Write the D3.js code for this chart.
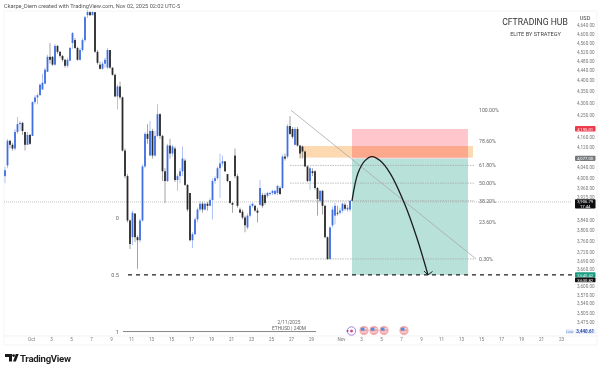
<!DOCTYPE html>
<html><head><meta charset="utf-8">
<script src="https://cdn.jsdelivr.net/npm/d3@7"></script>
<style>html,body{margin:0;padding:0;background:#fff}svg{display:block;filter:blur(.3px)}text{font-family:Roboto,"Liberation Sans",sans-serif}</style>
</head><body><div id="c"></div>
<script>
const opens=[4006,4048,4146,4130,4115,4182,4214,4219,4182,4130,4170,4166,4305,4325,4334,4358,4383,4434,4499,4499,4465,4547,4521,4503,4486,4460,4482,4560,4573,4538,4486,4529,4573,4685,4699,4685,4699,4521,4465,4447,4469,4452,4529,4452,4421,4329,4371,4325,4107,4006,3837,3775,3863,3775,3764,3837,4044,4174,4087,4186,4087,4166,4255,4166,4025,3987,4127,4095,4115,3991,4006,4025,4067,3972,3941,3764,3786,3841,3878,3900,3878,3900,3892,3914,3987,3998,4037,4056,4064,4014,3987,3903,4087,4006,3878,3870,3848,3811,3855,3892,3892,3874,3896,3933,3933,3930,3937,3941,3937,3941,3960,3960,4083,4083,4206,4194,4130,4194,4127,4123,4103,4044,3987,4025,4025,3960,3911,3949,3892,3775,3696,3819,3855,3866,3866,3874,3896,3878,3878];
const closes=[4029,4146,4130,4115,4182,4214,4219,4186,4130,4170,4134,4305,4325,4334,4379,4387,4443,4499,4486,4465,4547,4521,4503,4486,4460,4486,4538,4604,4538,4486,4529,4573,4676,4699,4685,4699,4521,4473,4447,4469,4486,4529,4452,4421,4329,4371,4325,4107,4006,3837,3750,3866,3775,3764,3837,4044,4174,4154,4186,4087,4166,4255,4166,4025,3987,4127,4095,4123,3991,4006,4025,4075,3972,3878,3764,3786,3841,3878,3900,3878,3900,3892,3914,3987,3998,4037,4056,4064,4025,3987,3903,3896,4006,3892,3866,3848,3819,3855,3892,3900,3874,3866,3960,3892,3903,3941,3941,3949,3949,3968,3937,4083,4075,4206,4174,4162,4194,4127,4095,4103,4044,3987,4037,4018,3960,3918,3949,3892,3775,3696,3811,3878,3892,3863,3874,3900,3881,3885,3911];
const highs=[4044,4154,4150,4138,4194,4243,4227,4223,4182,4182,4174,4309,4334,4342,4383,4426,4452,4508,4560,4503,4556,4551,4525,4508,4490,4495,4543,4609,4582,4543,4538,4582,4681,4708,4703,4703,4699,4529,4478,4478,4495,4538,4529,4452,4426,4379,4392,4329,4115,4014,3841,3874,3863,3782,3844,4052,4182,4214,4227,4194,4186,4296,4259,4170,4037,4134,4154,4130,4123,4014,4037,4123,4075,3976,3941,3793,3848,3885,3911,3907,3903,3907,3922,3998,4006,4044,4095,4087,4064,4014,3987,3907,4115,4014,3885,3878,3855,3863,3900,3903,3896,3885,3991,3941,3941,3945,3945,3953,3953,3972,3968,4091,4095,4214,4247,4202,4202,4202,4130,4127,4107,4048,4044,4037,4029,3964,3953,3953,3896,3778,3815,3889,3903,3892,3885,3903,3903,3896,3914];
const lows=[3979,4037,4115,4107,4107,4174,4186,4170,4107,4130,4130,4166,4296,4296,4334,4358,4383,4434,4469,4460,4460,4512,4495,4478,4452,4452,4482,4534,4534,4482,4482,4521,4564,4672,4681,4685,4517,4465,4443,4443,4452,4447,4447,4417,4325,4275,4317,4103,3998,3830,3732,3746,3757,3661,3757,3833,4037,4134,4087,4075,4083,4162,4154,3987,3903,3983,4075,4083,3983,3949,3979,4006,3968,3870,3760,3735,3782,3830,3870,3866,3874,3874,3892,3841,3976,3991,3922,4044,4022,3983,3900,3866,3998,3885,3866,3841,3793,3804,3848,3885,3870,3830,3892,3885,3896,3922,3930,3933,3933,3933,3933,3956,4067,4075,4170,4154,4127,4123,4075,4075,4041,3983,3953,4006,3953,3855,3903,3859,3771,3692,3692,3811,3822,3855,3859,3866,3874,3870,3870];
const firstBarDay=-1.6, barStep=0.25;

const priceTicks=[4640,4600,4560,4520,4480,4440,4400,4350,4300,4250,4160,4120,4040,4000,3960,3925,3840,3800,3760,3720,3690,3660,3600,3570,3540,3505,3475];
const dateTickDays=[1,3,5,7,9,11,13,15,17,19,21,23,25,27,29,32,34,36,38,40,42,44,46,48,50,52,54];
const dateTickLabels=["Oct","3","5","7","9","11","13","15","17","19","21","23","25","27","29","Nov","3","5","7","9","11","13","15","17","19","21","23"];

const fibLabels=["100.00%","78.60%","61.80%","50.00%","38.20%","23.60%","0.30%"];
const fibPrices=[4271,4146,4048,3979,3911,3830,3696];
const fibLinePrices=[4048,3979,3911,3696];
const levelLabels=["0","0.5","1"];
const levelPrices=[3848,3639,3444];
const stopPrice=4194, entryPrice=4075, targetPrice=3639;
const zonePrices=[4125,4079];
const currentPrice=3906.79;
const markPrice=4077, askPrice=4195.01, lowPrice=3444;
const curveDays=[33.1,33.7,34.4,35.1,35.9,36.9,38.4,39.6,40.7];
const curvePrices=[3911,4018,4067,4083,4067,4018,3896,3771,3639];
const trendDays=[27,45.5], trendPrices=[4271,3696];
const flagDays=[34.3,35.3,36.3,38.3];
const purpleDay=33;

const W=600,H=370;
const x=d3.scaleLinear().domain([1,54]).range([31,561]);
const y=d3.scaleLog().domain([4600,3600]).range([34,286]);
const svg=d3.select("#c").append("svg").attr("width",W).attr("height",H);
const xr=565;

// frame
svg.append("rect").attr("x",4).attr("y",11).attr("width",593).attr("height",334).attr("fill","none").attr("stroke","#f1f1f3").attr("stroke-width",.7);
svg.append("line").attr("x1",4).attr("x2",597).attr("y1",336).attr("y2",336).attr("stroke","#ececef").attr("stroke-width",.7);

// position boxes
const bx0=x(33.1),bx1=x(44.7);
svg.append("rect").attr("x",bx0).attr("width",bx1-bx0).attr("y",y(stopPrice)).attr("height",y(entryPrice)-y(stopPrice)).attr("fill","#ffc6cc");
svg.append("rect").attr("x",bx0).attr("width",bx1-bx0).attr("y",y(entryPrice)).attr("height",y(targetPrice)-y(entryPrice)).attr("fill","#b8e1d9");
svg.append("rect").attr("x",x(27.9)).attr("width",x(45.2)-x(27.9)).attr("y",y(zonePrices[0])).attr("height",y(zonePrices[1])-y(zonePrices[0])).attr("fill","#fcd9b0").style("mix-blend-mode","multiply");

// dotted current price line
svg.append("line").attr("x1",4).attr("x2",xr+7).attr("y1",y(currentPrice)).attr("y2",y(currentPrice)).attr("stroke","#a8a8a8").attr("stroke-width",.7).attr("stroke-dasharray","1 1");

// fib lines and labels
svg.selectAll(".fibl").data(fibLinePrices).join("line").attr("x1",x(26.9)).attr("x2",x(44.9)+5).attr("y1",d=>y(d)).attr("y2",d=>y(d)).attr("stroke","#a5a5a5").attr("stroke-width",.7).attr("stroke-dasharray","1.5 1");
svg.selectAll(".fibt").data(fibLabels).join("text").attr("x",479).attr("y",(d,i)=>y(fibPrices[i])+1.8).attr("font-size",5.2).attr("fill","#666").text(d=>d);
svg.append("line").attr("x1",x(trendDays[0])).attr("y1",y(trendPrices[0])).attr("x2",x(trendDays[1])).attr("y2",y(trendPrices[1])).attr("stroke","#aaa").attr("stroke-width",.8);

// candles
const bars=closes.map((c,i)=>({d:firstBarDay+i*barStep,o:opens[i],c,h:highs[i],l:lows[i]}));
const up=b=>b.c>=b.o;
svg.selectAll(".w").data(bars).join("line").attr("x1",b=>x(b.d)).attr("x2",b=>x(b.d)).attr("y1",b=>y(b.h)).attr("y2",b=>y(b.l)).attr("stroke",b=>up(b)?"#a6bdf2":"#9a9a9a").attr("stroke-width",.9);
svg.selectAll(".b").data(bars).join("rect").attr("x",b=>x(b.d)-.9).attr("width",1.8).attr("y",b=>y(Math.max(b.o,b.c))).attr("height",b=>Math.max(1,Math.abs(y(b.o)-y(b.c)))).attr("fill",b=>up(b)?"#3f6fe0":"#2b2b2b");

// target dashed line
svg.append("line").attr("x1",x(10.7)).attr("x2",xr+10).attr("y1",y(targetPrice)).attr("y2",y(targetPrice)).attr("stroke","#222").attr("stroke-width",1.1).attr("stroke-dasharray","4 4");

// left level labels
svg.selectAll(".lv").data(levelLabels).join("text").attr("x",119).attr("text-anchor","end").attr("y",(d,i)=>y(levelPrices[i])+2).attr("font-size",5.6).attr("fill","#666").text(d=>d);
svg.append("line").attr("x1",x(10.2)).attr("x2",x(29.5)).attr("y1",y(levelPrices[2])).attr("y2",y(levelPrices[2])).attr("stroke","#888").attr("stroke-width",1);
svg.append("text").attr("x",x(26.8)).attr("y",324).attr("text-anchor","middle").attr("font-size",4.8).attr("fill","#666").text("2/11/2025");
svg.append("text").attr("x",x(26.8)).attr("y",330).attr("text-anchor","middle").attr("font-size",4.8).attr("fill","#666").text("ETHUSD | 240M");

// arc + arrow
const arc=d3.line().x((d,i)=>x(curveDays[i])).y(d=>y(d)).curve(d3.curveCatmullRom);
svg.append("path").attr("d",arc(curvePrices)).attr("fill","none").attr("stroke","#1c1c1c").attr("stroke-width",1.3);
const ax=x(curveDays[8]),ay=y(curvePrices[8]);
svg.append("path").attr("d",d3.line()([[ax-4,ay-4],[ax,ay],[ax+4.5,ay-3.5]])).attr("fill","none").attr("stroke","#1c1c1c").attr("stroke-width",1);

// event icons
flagDays.forEach(d=>{const g=svg.append("g").attr("transform",`translate(${x(d)},330.5)`);
 g.append("circle").attr("r",4.6).attr("fill","#f6a5a9");
 g.append("rect").attr("x",-3.2).attr("y",-2.4).attr("width",6.4).attr("height",1.1).attr("fill","#f4d9dc");
 g.append("rect").attr("x",-3.2).attr("y",1).attr("width",6.4).attr("height",1.1).attr("fill","#f4d9dc");
 g.append("rect").attr("x",-3.2).attr("y",-2.8).attr("width",3.6).attr("height",3).attr("fill","#4a8fe0");});
const pg=svg.append("g").attr("transform",`translate(${x(purpleDay)+.5},331)`);
pg.append("circle").attr("r",4.2).attr("fill","#fff").attr("stroke","#a070d8").attr("stroke-width",.9);
pg.append("circle").attr("r",1.5).attr("fill","#d0508a");
pg.append("circle").attr("cx",-4).attr("r",1).attr("fill","#6a4ad0");

// axes
const yAxis=d3.axisRight(y).tickValues(priceTicks).tickSize(0).tickPadding(0).tickFormat(d3.format(",.2f"));
const yg=svg.append("g").attr("transform","translate(577,0)").call(yAxis);
yg.select(".domain").remove();
yg.selectAll("text").attr("font-size",4.6).attr("fill","#777").attr("font-family",'Roboto,"Liberation Sans",sans-serif');
const xAxis=d3.axisBottom(x).tickValues(dateTickDays).tickSize(0).tickPadding(0).tickFormat((d,i)=>dateTickLabels[i]);
const xg=svg.append("g").attr("transform","translate(0,338)").call(xAxis);
xg.select(".domain").remove();
xg.selectAll("text").attr("font-size",4.6).attr("fill","#777").attr("font-family",'Roboto,"Liberation Sans",sans-serif');

// price tags
function tag(py,h,fill,lines,tc){
 svg.append("rect").attr("x",575).attr("width",20.5).attr("y",py).attr("height",h).attr("rx",.8).attr("fill",fill);
 lines.forEach((t,i)=>svg.append("text").attr("x",585.2).attr("y",py+(i+1)*h/lines.length-.7).attr("text-anchor","middle").attr("font-size",4.2).attr("fill",tc).text(t));
}
tag(y(askPrice)-2.8,5.6,"#ee3b4c",[d3.format(",.2f")(askPrice)],"#fff");
tag(y(markPrice)-2.4,5.2,"#77797d",[d3.format(",.2f")(markPrice)],"#fff");
tag(y(currentPrice)-2.6,9.2,"#0d0d0f",[d3.format(",.2f")(currentPrice),"17:44"],"#fff");
tag(y(targetPrice)-2.6,5.2,"#1c9c80",[d3.format(",.2f")(3640.42)],"#d8f5ee");
tag(y(targetPrice)+2.6,4.8,"#111",[d3.format(",.2f")(3630.82)],"#fff");
svg.append("rect").attr("x",566).attr("y",y(lowPrice)-2.2).attr("width",7.5).attr("height",4.6).attr("fill","#e4ecfb");
svg.append("text").attr("x",569.8).attr("y",y(lowPrice)+1.4).attr("text-anchor","middle").attr("font-size",4.2).attr("fill","#6a8bd0").text("Low");
svg.append("rect").attr("x",575).attr("y",y(lowPrice)-2.4).attr("width",20.5).attr("height",5).attr("fill","#e9effc");
svg.append("text").attr("x",585.2).attr("y",y(lowPrice)+1.5).attr("text-anchor","middle").attr("font-size",4.5).attr("font-weight",600).attr("fill","#1f3f9f").text("3,440.61");

// titles
svg.append("text").attr("x",4).attr("y",8.2).attr("font-size",5.6).attr("fill","#555").text("Ckarpe_Diem created with TradingView.com, Nov 02, 2025 02:02 UTC-5");
svg.append("text").attr("x",535).attr("y",25).attr("text-anchor","middle").attr("font-size",8.6).attr("fill","#333").text("CFTRADING HUB");
svg.append("text").attr("x",535.5).attr("y",36).attr("text-anchor","middle").attr("font-size",5.6).attr("fill","#444").text("ELITE BY STRATEGY");
svg.append("text").attr("x",585).attr("y",20).attr("text-anchor","middle").attr("font-size",5.6).attr("fill","#444").text("USD");

// logo
const lg=svg.append("g").attr("fill","#1a1a1a");
lg.append("path").attr("d","M5 354h7v7.5h-3v-4.5h-4z");
lg.append("circle").attr("cx",13.6).attr("cy",355.6).attr("r",1.4);
lg.append("path").attr("d","M13 361.5l2.8-7.5h2.9l-2.8 7.5z");
svg.append("text").attr("x",20).attr("y",361.5).attr("font-size",9.6).attr("font-weight",700).attr("fill","#222").attr("textLength",51).text("TradingView");
</script></body></html>
